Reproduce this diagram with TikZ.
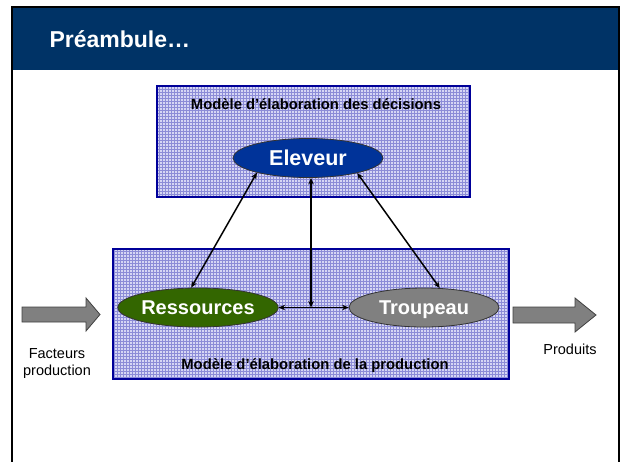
\documentclass[tikz,border=0pt]{standalone}
\usepackage{fontspec}
\setmainfont{Liberation Sans}
\usetikzlibrary{patterns,arrows.meta,shapes.geometric}
\definecolor{headblue}{RGB}{0,51,102}
\definecolor{boxline}{RGB}{0,0,153}
\definecolor{boxfill}{RGB}{214,214,244}
\definecolor{boxdots}{RGB}{140,140,215}
\definecolor{elevblue}{RGB}{0,51,153}
\definecolor{resgreen}{RGB}{51,102,0}
\definecolor{trgray}{RGB}{128,128,128}
\definecolor{arrgray}{RGB}{128,128,128}
\begin{document}
\begin{tikzpicture}[x=1pt,y=-1pt,
  modelbox/.style={draw=boxline, line width=1.8pt, preaction={fill=boxfill},
    pattern=grid, pattern color=boxdots, inner sep=0pt},
  actor/.style={ellipse, draw=black!80, line width=0.8pt, inner sep=0pt,
    minimum width=150pt, minimum height=39pt, text=white,
    text height=14.4pt, text depth=0pt,
    font=\bfseries\fontsize{20}{24}\selectfont},
  boxlabel/.style={font=\bfseries\fontsize{14.8}{17}\selectfont, anchor=base},
  sidelabel/.style={font=\fontsize{14.5}{17}\selectfont, align=center},
  link/.style={line width=1.5pt, {Stealth[length=6.5pt,width=5.5pt]}-{Stealth[length=6.5pt,width=5.5pt]}},
  blockarrow/.style={fill=arrgray, draw=black!75, line width=0.8pt}
]
\useasboundingbox (0,0) rectangle (620,461);
% slide frame and header
\fill[headblue] (12.5,8) rectangle (617.5,70);
\draw[line width=2pt] (11.5,475) -- (11.5,7) -- (618.5,7) -- (618.5,475);
\node[anchor=base west, text=white, font=\bfseries\fontsize{23}{28}\selectfont] (title) at (46,47) {Préambule…};
% model boxes
\node[modelbox, minimum width=313pt, minimum height=111pt] (upper) at (313.5,141.5) {};
\node[modelbox, minimum width=396pt, minimum height=130pt] (lower) at (311,314) {};
\node[boxlabel] (ulab) at (316,109) {Modèle d’élaboration des décisions};
\node[boxlabel] (llab) at (315,369) {Modèle d’élaboration de la production};
% actors
\node[actor, fill=elevblue, font=\bfseries\fontsize{21.5}{25}\selectfont, text height=15.4pt] (E) at (308,158) {Eleveur};
\node[actor, fill=resgreen] (R) at (198,307.5) {Ressources};
\node[actor, fill=trgray] (T) at (424,307.5) {Troupeau};
% links
\draw[link] (R.east) -- (T.west);
\coordinate (mid) at (311,307.5);
\draw[link] (mid |- E.south) -- (mid);
\draw[link] (E.196) -- (R.109);
\draw[link] (E.343) -- (T.51);
% block arrows
\draw[blockarrow] (22,307) -- (86,307) -- (86,298) -- (100,314.5) -- (86,331) -- (86,322) -- (22,322) -- cycle;
\draw[blockarrow] (513,307) -- (575,307) -- (575,298) -- (596,315) -- (575,332) -- (575,323) -- (513,323) -- cycle;
\node[sidelabel, anchor=base] (fac) at (57,358) {Facteurs};
\node[sidelabel, anchor=base] (prod) at (57,375) {production};
\node[sidelabel, anchor=base] (out) at (570,354) {Produits};
\end{tikzpicture}
\end{document}
